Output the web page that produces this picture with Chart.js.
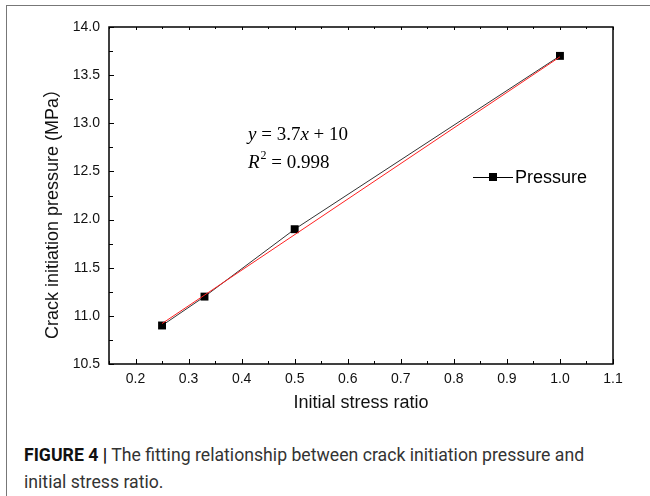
<!doctype html>
<html lang="en">
<head>
<meta charset="utf-8">
<title>Crack initiation pressure vs initial stress ratio</title>
<script src="https://cdn.jsdelivr.net/npm/chart.js@4/dist/chart.umd.min.js"></script>
<style>
  body { margin: 0; background: #fff; }
  #page { position: relative; width: 650px; height: 496px; overflow: hidden; }
  #frame { position: absolute; left: 6px; top: 5px; width: 660px; height: 500px;
           border-top: 1.5px solid #777; border-left: 1.5px solid #777; }
  #box { position: absolute; left: 0; top: 0; width: 650px; height: 417px; }
  #caption { position: absolute; left: 24px; top: 441px; width: 680px;
             font-family: "Liberation Sans Narrow", "Roboto", sans-serif; font-size: 19px;
             line-height: 27px; color: #333; transform: scaleX(0.93); transform-origin: 0 0; }
  #caption b { color: #111; }
</style>
</head>
<body>
<div id="page">
  <div id="frame"></div>
  <div id="box"><canvas id="chart"></canvas></div>
  <div id="caption"><b>FIGURE 4 |</b> The fitting relationship between crack initiation pressure and<br>initial stress ratio.</div>
</div>

<script>
// data
var stressRatio = [0.25, 0.33, 0.5, 1.0];
var pressure    = [10.9, 11.2, 11.9, 13.7];
// fitted line y = 3.7x + 10, end points
var fitX = [0.25, 1.0];
var fitY = [10.92, 13.69];

var xTicks = [0.2, 0.3, 0.4, 0.5, 0.6, 0.7, 0.8, 0.9, 1.0, 1.1];
var yTicks = [10.5, 11.0, 11.5, 12.0, 12.5, 13.0, 13.5, 14.0];
var xMinor = [0.15, 0.25, 0.35, 0.45, 0.55, 0.65, 0.75, 0.85, 0.95, 1.05];
var yMinor = [10.75, 11.25, 11.75, 12.25, 12.75, 13.25, 13.75];

var yTitle = 'Crack initiation pressure (MPa\uFF09';

var sans = "'Liberation Sans', Arial, 'Noto Sans CJK SC', sans-serif";
var serif = "'Liberation Serif', 'Times New Roman', serif";

// axis frame, inward ticks, y title, legend and equation
var extras = {
  id: 'extras',
  afterDraw: function(chart) {
    var ctx = chart.ctx, a = chart.chartArea;
    var sx = chart.scales.x, sy = chart.scales.y;
    ctx.save();
    ctx.strokeStyle = '#000';
    ctx.lineWidth = 1.5;
    ctx.strokeRect(a.left, a.top, a.right - a.left, a.bottom - a.top);
    ctx.lineWidth = 1;
    ctx.beginPath();
    xTicks.forEach(function(v) {
      var p = Math.round(sx.getPixelForValue(v)) + 0.5;
      ctx.moveTo(p, a.bottom); ctx.lineTo(p, a.bottom - 5);
      ctx.moveTo(p, a.top); ctx.lineTo(p, a.top + 3);
    });
    xMinor.forEach(function(v) {
      var p = Math.round(sx.getPixelForValue(v)) + 0.5;
      ctx.moveTo(p, a.bottom); ctx.lineTo(p, a.bottom - 3);
      ctx.moveTo(p, a.top); ctx.lineTo(p, a.top + 2);
    });
    yTicks.forEach(function(v) {
      var p = Math.round(sy.getPixelForValue(v)) + 0.5;
      ctx.moveTo(a.left, p); ctx.lineTo(a.left + 5, p);
    });
    yMinor.forEach(function(v) {
      var p = Math.round(sy.getPixelForValue(v)) + 0.5;
      ctx.moveTo(a.left, p); ctx.lineTo(a.left + 4, p);
    });
    ctx.stroke();

    // y axis title, a little below the middle as in the original
    ctx.save();
    ctx.translate(53, (a.top + a.bottom) / 2 + 14);
    ctx.rotate(-Math.PI / 2);
    ctx.fillStyle = '#111';
    ctx.font = '18px ' + sans;
    ctx.textAlign = 'center';
    ctx.textBaseline = 'middle';
    ctx.fillText(yTitle, 0, 0);
    ctx.restore();

    // legend
    var ly = 177;
    ctx.strokeStyle = '#000';
    ctx.beginPath();
    ctx.moveTo(473, ly + 0.5); ctx.lineTo(513, ly + 0.5);
    ctx.stroke();
    ctx.fillStyle = '#000';
    ctx.fillRect(489, ly - 4, 8, 8);
    ctx.font = '18px ' + sans;
    ctx.textBaseline = 'middle';
    ctx.fillText('Pressure', 515, ly + 1);

    // equation
    var x = 248;
    function piece(t, style, size, dy) {
      ctx.font = style + ' ' + size + 'px ' + serif;
      ctx.fillText(t, x, dy);
      x += ctx.measureText(t).width;
    }
    piece('y', 'italic', 19, 135);
    piece(' = 3.7', 'normal', 19, 135);
    piece('x', 'italic', 19, 135);
    piece(' + 10', 'normal', 19, 135);
    x = 248;
    piece('R', 'italic', 19, 163);
    x += 1;
    piece('2', 'normal', 12, 156);
    piece(' = 0.998', 'normal', 19, 163);
    ctx.restore();
  }
};

new Chart(document.getElementById('chart'), {
  type: 'scatter',
  data: {
    datasets: [
      {
        label: 'Pressure',
        data: stressRatio.map(function(v, i) { return { x: v, y: pressure[i] }; }),
        showLine: true,
        borderColor: '#333',
        borderWidth: 1,
        pointStyle: 'rect',
        pointRadius: 5.6,
        pointBackgroundColor: '#000',
        pointBorderColor: '#000',
        pointBorderWidth: 0,
        order: 1
      },
      {
        label: 'Fit',
        data: fitX.map(function(v, i) { return { x: v, y: fitY[i] }; }),
        showLine: true,
        borderColor: '#ff2020',
        borderWidth: 1,
        pointRadius: 0,
        order: 0
      }
    ]
  },
  options: {
    responsive: true,
    maintainAspectRatio: false,
    animation: false,
    layout: { padding: { top: 27, right: 37, left: 0, bottom: 0 } },
    plugins: { legend: { display: false }, tooltip: { enabled: false } },
    scales: {
      x: {
        type: 'linear',
        min: 0.15,
        max: 1.1,
        afterBuildTicks: function(s) { s.ticks = xTicks.map(function(v) { return { value: v }; }); },
        afterFit: function(s) { s.height = 53; },
        grid: { display: false, drawTicks: false },
        border: { display: false },
        ticks: {
          padding: 7,
          color: '#111',
          font: { family: sans, size: 14 },
          callback: function(v) { return v.toFixed(1); }
        },
        title: {
          display: true,
          text: 'Initial stress ratio',
          color: '#111',
          font: { family: sans, size: 18 },
          padding: { top: 0, bottom: 3 }
        }
      },
      y: {
        min: 10.5,
        max: 14.0,
        afterBuildTicks: function(s) { s.ticks = yTicks.map(function(v) { return { value: v }; }); },
        afterFit: function(s) { s.width = 109; },
        grid: { display: false, drawTicks: false },
        border: { display: false },
        ticks: {
          padding: 9,
          color: '#111',
          font: { family: sans, size: 14 },
          callback: function(v) { return v.toFixed(1); }
        },
        title: { display: false }
      }
    }
  },
  plugins: [extras]
});
</script>
</body>
</html>
